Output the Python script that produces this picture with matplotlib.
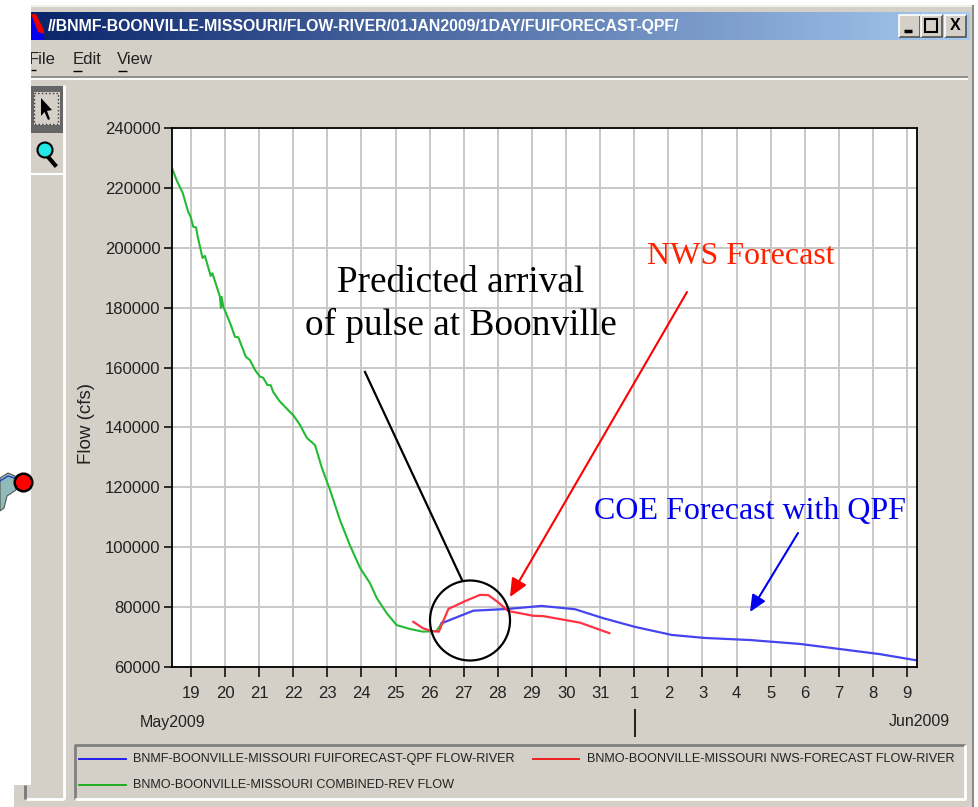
import numpy as np
import matplotlib
matplotlib.use("Agg")
import matplotlib.pyplot as plt
from matplotlib.patches import Rectangle, Circle, Polygon

# days are counted from 1 May, so 1 Jun = 32
green_days = [18.46, 18.58, 18.76, 18.92, 18.99, 19.07, 19.15, 19.20, 19.34, 19.41, 19.58, 19.63, 19.85, 19.88,
              19.90, 19.95, 20.09, 20.19, 20.29, 20.39, 20.61, 20.73, 20.88, 21.02, 21.12, 21.24, 21.34, 21.41,
              21.59, 22.02, 22.20, 22.40, 22.64, 22.84, 23.08, 23.37, 23.66, 23.96, 24.25, 24.45, 24.74, 25.03,
              25.42, 25.80, 26.20, 26.38]
green_flow = [226200, 222600, 218300, 212000, 210400, 207000, 206800, 203700, 196600, 197300, 190600, 191500,
              183700, 179900, 183600, 180300, 176500, 173600, 170300, 170100, 163600, 162500, 159200, 157000,
              156600, 154200, 154100, 151900, 148900, 143800, 140800, 136500, 134100, 126500, 119100, 109100,
              100700, 93100, 88000, 83000, 78000, 74000, 72700, 71800, 72000, 75100]

blue_days = [26.35, 27.28, 28.30, 29.28, 30.26, 31.09, 32.02, 33.10, 34.07, 35.40, 36.86, 38.03, 39.20, 40.29]
blue_flow = [74600, 78800, 79400, 80400, 79300, 76300, 73400, 70700, 69700, 69000, 67700, 66000, 64300, 62200]

red_days = [25.52, 25.81, 26.06, 26.27, 26.55, 27.08, 27.48, 27.72, 28.01, 28.30, 29.04, 29.33, 30.41, 31.27]
red_flow = [75100, 72900, 72000, 71800, 79400, 82200, 84100, 84000, 81600, 78700, 77100, 77000, 74800, 71300]

x_ticks = list(range(19, 41))
x_labels = [str(d) for d in range(19, 32)] + [str(d) for d in range(1, 10)]
y_ticks = list(range(60000, 240001, 20000))

title_text = "//BNMF-BOONVILLE-MISSOURI/FLOW-RIVER/01JAN2009/1DAY/FUIFORECAST-QPF/"
blue_name = "BNMF-BOONVILLE-MISSOURI FUIFORECAST-QPF FLOW-RIVER"
red_name = "BNMO-BOONVILLE-MISSOURI NWS-FORECAST FLOW-RIVER"
green_name = "BNMO-BOONVILLE-MISSOURI COMBINED-REV FLOW"

GRAY = "#d4d0c8"
SANS = "Liberation Sans"
SERIF = "Liberation Serif"

fig = plt.figure(figsize=(9.79, 8.07), dpi=100, facecolor="white")

# window chrome, drawn in pixel coordinates
back = fig.add_axes([0, 0, 1, 1], zorder=0)
back.set_xlim(0, 979)
back.set_ylim(807, 0)
back.axis("off")


def box(ax, x, y, w, h, color, z=1):
    ax.add_patch(Rectangle((x, y), w, h, facecolor=color, edgecolor="none", zorder=z))


def line(ax, xs, ys, color, lw=1.5, z=2):
    ax.plot(xs, ys, color=color, lw=lw, solid_capstyle="butt", zorder=z)


box(back, 31, 5, 942, 802, GRAY)
box(back, 14, 785, 20, 22, GRAY)
line(back, [31, 973], [5.5, 5.5], "#f2f0ea", 1.5)
line(back, [973, 973], [5, 807], "#8a8a86", 1.5)

# title bar gradient
grad = np.linspace(0, 1, 256).reshape(1, -1, 1)
c0 = np.array([10, 36, 106]).reshape(1, 1, 3) / 255
c1 = np.array([166, 202, 240]).reshape(1, 1, 3) / 255
back.imshow(c0 + (c1 - c0) * grad, extent=(31, 970, 40, 12), aspect="auto", zorder=2)
back.set_xlim(0, 979)
back.set_ylim(807, 0)
back.add_patch(Polygon([[31, 14], [44, 33], [44, 40], [31, 40]], facecolor="#0000ee", zorder=3))
back.add_patch(Polygon([[31, 14], [36, 14], [44, 30], [44, 34], [38, 32]], facecolor="#e80000", zorder=4))
back.text(48, 26.5, title_text, color="white", fontsize=11.4, fontweight="bold", family=SANS,
          ha="left", va="center", zorder=4)

# window buttons
for bx in [899, 921, 945]:
    box(back, bx, 15, 21, 22, GRAY, 3)
    line(back, [bx, bx + 21, bx + 21], [37, 37, 15], "#55534e", 1.2, 4)
    line(back, [bx, bx, bx + 21], [37, 15, 15], "white", 1.2, 4)
line(back, [904, 912], [31, 31], "black", 2.5, 5)
back.add_patch(Rectangle((925, 19), 12, 13, facecolor="none", edgecolor="black", lw=1.5, zorder=5))
back.text(955.5, 26, "X", fontsize=11.5, fontweight="bold", family=SANS, ha="center", va="center", zorder=5)

# menu, the F of File is cut off by the window edge in the screenshot
for mx, name in [(29, "File"), (73, "Edit"), (117, "View")]:
    back.text(mx, 60, name, fontsize=12, family=SANS, color="#222222", ha="left", va="center", zorder=3)
box(back, 0, 50, 31, 20, "white", 4)
line(back, [31, 36], [70, 70], "black", 1, 3)
line(back, [73, 82], [71, 71], "black", 1, 3)
line(back, [118, 127], [71, 71], "black", 1, 3)
line(back, [31, 968], [77, 77], "#8a8a86", 1.3)
line(back, [31, 968], [79, 79], "white", 1.3)

# tool strip
box(back, 31, 86, 32, 47, "#666666", 2)
box(back, 34, 92, 26, 33, GRAY, 3)
back.add_patch(Rectangle((34, 93), 24, 31, facecolor="none", edgecolor="#333333", ls=":", lw=1, zorder=4))
back.add_patch(Polygon([[41, 98], [41, 116], [44.5, 112], [48, 120], [50, 119], [47, 111], [52, 110]],
                       facecolor="black", zorder=5))
back.plot([49, 55], [158, 165], color="black", lw=3, zorder=4)
back.add_patch(Circle((45, 150), 7.5, facecolor="#22e8e8", edgecolor="black", lw=1.5, zorder=5))
line(back, [31, 63], [173.5, 173.5], "white", 1.5)
line(back, [64, 64], [85, 799], "white", 2)
line(back, [26, 64], [799, 799], "white", 2)
line(back, [25, 25], [785, 799], "#777777", 2)

# piece of the map at the left
back.add_patch(Polygon([[0, 478], [8, 473], [15, 476], [16, 490], [7, 496], [4, 508], [0, 511]],
                       facecolor="#8fbcb8", edgecolor="#555555", lw=0.8, zorder=3))
back.plot([0, 8, 14, 20], [481, 476, 478, 483], color="#2244cc", lw=1, zorder=4)
back.add_patch(Circle((23.5, 482.5), 8.8, facecolor="#ff0000", edgecolor="black", lw=1.8, zorder=5))

# legend box
box(back, 75, 744, 890, 55, GRAY, 2)
line(back, [75.5, 75.5, 965], [799, 745, 745], "#80807c", 2, 3)
line(back, [75.5, 965, 965], [799, 799, 745], "white", 2, 3)

# the plot itself
ax = fig.add_axes([172.5 / 979, 1 - 667 / 807, (917 - 172.5) / 979, (667 - 128) / 807], zorder=1)
ax.set_xlim(18.46, 40.29)
ax.set_ylim(60000, 240000)
ax.set_xticks(x_ticks)
ax.set_xticklabels(x_labels, fontsize=12, family=SANS, color="#222222")
ax.set_yticks(y_ticks)
ax.set_yticklabels([str(v) for v in y_ticks], fontsize=12, family=SANS, color="#222222")
ax.tick_params(axis="x", length=7.5, width=1.1, pad=6.5)
ax.tick_params(axis="y", length=5.5, width=1.1, pad=3)
ax.grid(True, color="#c8c8c8", lw=1.4)
ax.set_axisbelow(True)
for s in ax.spines.values():
    s.set_linewidth(1.3)
ax.plot(green_days, green_flow, color="#22bb33", lw=1.5)
ax.plot(blue_days, blue_flow, color="#4444f0", lw=1.6)
ax.plot(red_days, red_flow, color="#ff3344", lw=1.6)

# overlay for the annotations and the labels round the axes
top = fig.add_axes([0, 0, 1, 1], zorder=2)
top.set_xlim(0, 979)
top.set_ylim(807, 0)
top.axis("off")
top.patch.set_alpha(0)

top.text(87, 423, "Flow (cfs)", rotation=90, fontsize=13.5, family=SANS, color="#222222", ha="center", va="center")
top.text(140, 722, "May2009", fontsize=11.5, family=SANS, color="#222222", ha="left", va="center")
top.text(950, 722, "Jun2009", fontsize=11.5, family=SANS, color="#222222", ha="right", va="center")
line(top, [635, 635], [709, 737], "black", 1.2)

top.plot([79, 126], [759, 759], color="#1111ee", lw=1.3)
top.plot([533, 579], [759, 759], color="#ee1111", lw=1.3)
top.plot([79, 126], [785, 785], color="#11aa11", lw=1.3)
top.text(133, 759, blue_name, fontsize=9.1, family=SANS, color="#222222", ha="left", va="center")
top.text(587, 759, red_name, fontsize=9.1, family=SANS, color="#222222", ha="left", va="center")
top.text(133, 785, green_name, fontsize=9.1, family=SANS, color="#222222", ha="left", va="center")

top.add_patch(Circle((470, 620.5), 40, facecolor="none", edgecolor="black", lw=1.6))
top.plot([365, 462], [372, 580], color="black", lw=1.6)
top.annotate("", xy=(510, 597), xytext=(687, 292),
             arrowprops=dict(arrowstyle="-|>,head_length=1.1,head_width=0.5", color="#ff0000", lw=1.5, shrinkA=0, shrinkB=0))
top.annotate("", xy=(750, 612), xytext=(798, 533),
             arrowprops=dict(arrowstyle="-|>,head_length=1.0,head_width=0.45", color="#0000ee", lw=1.5, shrinkA=0, shrinkB=0))

top.text(461, 283, "Predicted arrival", fontsize=26.8, family=SERIF, color="black", ha="center", va="center")
top.text(461, 325, "of pulse at Boonville", fontsize=26.8, family=SERIF, color="black", ha="center", va="center")
top.text(741, 256, "NWS Forecast", fontsize=23, family=SERIF, color="#ff2200", ha="center", va="center")
top.text(750, 512, "COE Forecast with QPF", fontsize=23, family=SERIF, color="#0000ee", ha="center", va="center")

fig.savefig("out.png", dpi=100)
